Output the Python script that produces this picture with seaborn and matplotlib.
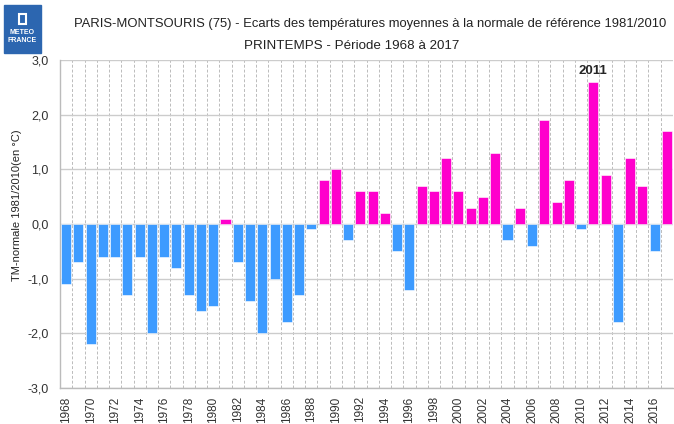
import numpy as np
import pandas as pd
import seaborn as sns
import matplotlib.pyplot as plt
from matplotlib.patches import Rectangle

years = list(range(1968, 2018))
ecarts = [-1.1, -0.7, -2.2, -0.6, -0.6, -1.3, -0.6, -2.0, -0.6, -0.8,
          -1.3, -1.6, -1.5, 0.1, -0.7, -1.4, -2.0, -1.0, -1.8, -1.3,
          -0.1, 0.8, 1.0, -0.3, 0.6, 0.6, 0.2, -0.5, -1.2, 0.7,
          0.6, 1.2, 0.6, 0.3, 0.5, 1.3, -0.3, 0.3, -0.4, 1.9,
          0.4, 0.8, -0.1, 2.6, 0.9, -1.8, 1.2, 0.7, -0.5, 1.7]
yticks = [-3, -2, -1, 0, 1, 2, 3]
annot_year = 2011

blue = "#3D9BFF"
magenta = "#FF00CC"

df = pd.DataFrame({"annee": [str(y) for y in years], "ecart": ecarts})
df["signe"] = np.where(df["ecart"] >= 0, "pos", "neg")

sns.set_style("white")
plt.rcParams['font.family'] = ['Liberation Sans', 'DejaVu Sans']

fig = plt.figure(figsize=(6.74, 4.24), dpi=100)
W, H = 674, 424
ax = fig.add_axes([60 / W, 1 - 388 / H, 613 / W, 328 / H])

sns.barplot(data=df, x="annee", y="ecart", hue="signe", dodge=False,
            palette={"pos": magenta, "neg": blue}, width=0.82, saturation=1,
            edgecolor="#ffffff", linewidth=0.4, legend=False, ax=ax, zorder=3)

ax.set_xlim(-0.5, len(years) - 0.5)
ax.set_ylim(-3, 3)

# y axis
ax.set_yticks(yticks)
ax.set_yticklabels([f"{v:.1f}".replace(".", ",") for v in yticks],
                   fontsize=9, color="#333333")
ax.yaxis.grid(True, color="#cccccc", linewidth=1.0, zorder=0)
ax.tick_params(axis="y", length=6, color="#bbbbbb", pad=2)

# x axis: labels every two years, dashed lines between bars
ax.set_xticks(range(0, len(years), 2))
ax.set_xticklabels([str(y) for y in years[::2]], rotation=90, fontsize=8.5,
                   color="#333333")
ax.set_xticks(np.arange(len(years)) + 0.5, minor=True)
ax.tick_params(axis="x", which="major", length=0, pad=6)
ax.tick_params(axis="x", which="minor", length=5, color="#bbbbbb")
ax.xaxis.grid(True, which="minor", color="#bbbbbb", linestyle=(0, (3, 2)), linewidth=0.7)
ax.xaxis.grid(False, which="major")
ax.set_axisbelow(True)
ax.set_xlabel("")
ax.set_ylabel("")

for side in ["top", "right"]:
    ax.spines[side].set_visible(False)
for side in ["left", "bottom"]:
    ax.spines[side].set_color("#bbbbbb")
    ax.spines[side].set_linewidth(1.0)

# annotation above the warmest year
i = years.index(annot_year)
ax.text(i, ecarts[i] + 0.08, str(annot_year), ha="center", va="bottom",
        fontsize=9.5, fontweight="bold")

# titles
fig.text(370 / W, 1 - 24 / H, "PARIS-MONTSOURIS (75) - Ecarts des températures moyennes à la normale de référence 1981/2010",
         ha="center", va="center", fontsize=9.4, color="#222222")
fig.text(352 / W, 1 - 46 / H, "PRINTEMPS - Période 1968 à 2017",
         ha="center", va="center", fontsize=9.6, color="#222222")
fig.text(17 / W, 1 - 205 / H, "TM-normale 1981/2010(en °C)", rotation=90,
         ha="center", va="center", fontsize=8, color="#222222")

# logo
fig.patches.append(Rectangle((4 / W, 1 - 53 / H), 37 / W, 48 / H,
                             transform=fig.transFigure, color="#2C66B0", zorder=5))
fig.patches.append(Rectangle((19 / W, 1 - 24 / H), 7 / W, 10 / H,
                             transform=fig.transFigure, facecolor="none",
                             edgecolor="white", linewidth=1.5, zorder=6))
fig.text(22.5 / W, 1 - 33 / H, "METEO", ha="center", va="center", fontsize=5,
         fontweight="bold", color="white", zorder=7)
fig.text(22.5 / W, 1 - 41 / H, "FRANCE", ha="center", va="center", fontsize=5,
         fontweight="bold", color="white", zorder=7)

fig.savefig("out.png", dpi=100)
